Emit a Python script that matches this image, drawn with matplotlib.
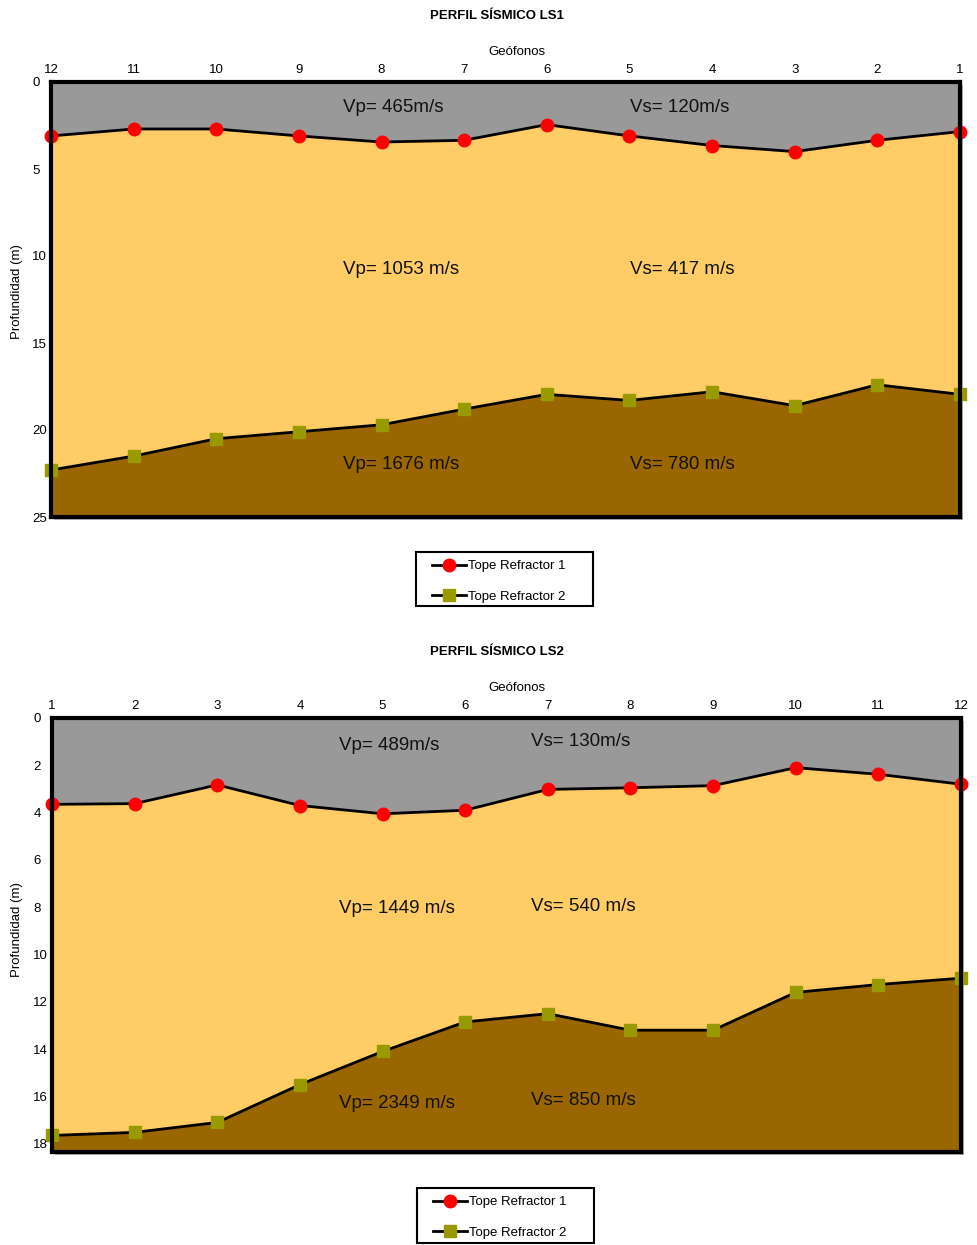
import matplotlib
matplotlib.use("Agg")
import matplotlib.pyplot as plt
from matplotlib.patches import Rectangle

plt.rcParams['font.family'] = ['Liberation Sans', 'DejaVu Sans']

# ---- data -------------------------------------------------------------
geophones = list(range(1, 13))

# LS1 (geophone order 1..12)
ls1_refr1 = [2.85, 3.35, 4.0, 3.65, 3.1, 2.45, 3.35, 3.45, 3.1, 2.7, 2.7, 3.1]
ls1_refr2 = [17.95, 17.4, 18.6, 17.8, 18.3, 17.95, 18.8, 19.7, 20.1, 20.5, 21.5, 22.3]

# LS2 (geophone order 1..12)
ls2_refr1 = [3.65, 3.62, 2.83, 3.7, 4.05, 3.9, 3.02, 2.95, 2.86, 2.1, 2.38, 2.8]
ls2_refr2 = [17.65, 17.52, 17.1, 15.5, 14.1, 12.85, 12.5, 13.2, 13.2, 11.6, 11.27, 11.0]

ls1_vp = ["Vp= 465m/s", "Vp= 1053 m/s", "Vp= 1676 m/s"]
ls1_vs = ["Vs= 120m/s", "Vs= 417 m/s", "Vs= 780 m/s"]
ls2_vp = ["Vp= 489m/s", "Vp= 1449 m/s", "Vp= 2349 m/s"]
ls2_vs = ["Vs= 130m/s", "Vs= 540 m/s", "Vs= 850 m/s"]

ls1_yticks = [0, 5, 10, 15, 20, 25]
ls2_yticks = [0, 2, 4, 6, 8, 10, 12, 14, 16, 18]

legend_labels = ["Tope Refractor 1", "Tope Refractor 2"]

# ---- style ------------------------------------------------------------
C_TOP = "#999999"
C_MID = "#FFCC66"
C_BOT = "#996600"
C_R1 = "#FF0000"
C_R2 = "#999900"

W, H = 977, 1245
fig = plt.figure(figsize=(W / 100, H / 100), dpi=100)


def px_box(x0, y0, x1, y1):
    return [x0 / W, 1 - y1 / H, (x1 - x0) / W, (y1 - y0) / H]


def draw_profile(box, r1, r2, ymax, yticks, xlim, vp, vs, vp_x, vs_x,
                 vp_y, vs_y, title, title_y, geo_y, leg_box, ylab_y):
    # drop shadow behind the frame
    b = box
    fig.patches.append(Rectangle((b[0] + 3 / W, b[1] - 3 / H), b[2], b[3],
                                 transform=fig.transFigure,
                                 facecolor="#b0b0b0", edgecolor="none",
                                 zorder=0))
    ax = fig.add_axes(box)
    ax.set_zorder(1)
    ax.fill_between(geophones, 0, r1, color=C_TOP, lw=0, zorder=1)
    ax.fill_between(geophones, r1, r2, color=C_MID, lw=0, zorder=1)
    ax.fill_between(geophones, r2, ymax, color=C_BOT, lw=0, zorder=1)
    h1, = ax.plot(geophones, r1, color="black", lw=2, marker="o", ms=9,
                  mfc=C_R1, mec=C_R1, zorder=3, clip_on=False)
    h2, = ax.plot(geophones, r2, color="black", lw=2, marker="s", ms=9,
                  mfc=C_R2, mec=C_R2, zorder=3, clip_on=False)
    ax.set_xlim(*xlim)
    ax.set_ylim(ymax, 0)
    ax.xaxis.tick_top()
    ax.set_xticks(geophones)
    ax.set_xticklabels([str(g) for g in geophones])
    ax.set_yticks(yticks)
    ax.tick_params(axis="x", length=0, pad=4, labelsize=9.5)
    ax.tick_params(axis="y", length=0, pad=13.5, labelsize=9.5)
    for lab in ax.get_yticklabels():
        lab.set_horizontalalignment("left")
    for s in ax.spines.values():
        s.set_linewidth(3)
        s.set_color("black")
        s.set_zorder(4)
    for txt, yy in zip(vp, vp_y):
        ax.text(vp_x, yy, txt, fontsize=13.5, ha="left", va="center",
                color="#111111", zorder=5)
    for txt, yy in zip(vs, vs_y):
        ax.text(vs_x, yy, txt, fontsize=13.5, ha="left", va="center",
                color="#111111", zorder=5)

    fig.text(497 / W, 1 - title_y / H, title, fontsize=9.5,
             fontweight="bold", ha="center", va="center")
    fig.text(517 / W, 1 - geo_y / H, "Geófonos", fontsize=9.5,
             ha="center", va="center")
    fig.text(17 / W, 1 - ylab_y / H, "Profundidad (m)", fontsize=9.5,
             rotation=90, ha="center", va="center")

    # legend: frameless entries inside a drawn box
    x0, y0, x1, y1 = leg_box
    fig.patches.append(Rectangle((x0 / W, 1 - y1 / H), (x1 - x0) / W,
                                 (y1 - y0) / H, transform=fig.transFigure,
                                 facecolor="white", edgecolor="black",
                                 lw=1.5, zorder=2))
    fig.legend([h1, h2], legend_labels, loc="upper left",
               bbox_to_anchor=((x0 + 12) / W, 1 - (y0 + 4) / H),
               bbox_transform=fig.transFigure, fontsize=9.5,
               frameon=False, handlelength=2.6, handletextpad=0.1,
               labelspacing=1.38, borderpad=0.3, borderaxespad=0)
    return ax


draw_profile(px_box(51, 82, 960, 517), ls1_refr1, ls1_refr2, 25,
             ls1_yticks, (12, 1), ls1_vp, ls1_vs, 8.47, 4.99,
             [1.44, 10.75, 21.96], [1.44, 10.75, 21.96],
             "PERFIL SÍSMICO LS1", 16, 52, (416, 552, 593, 606), 292)

draw_profile(px_box(52, 718, 961, 1152), ls2_refr1, ls2_refr2, 18.35,
             ls2_yticks, (1, 12), ls2_vp, ls2_vs, 4.47, 6.80,
             [1.18, 8.05, 16.31], [1.01, 7.96, 16.18],
             "PERFIL SÍSMICO LS2", 652, 688, (417, 1188, 594, 1243), 930)

fig.savefig("out.png", dpi=100, facecolor="white")
